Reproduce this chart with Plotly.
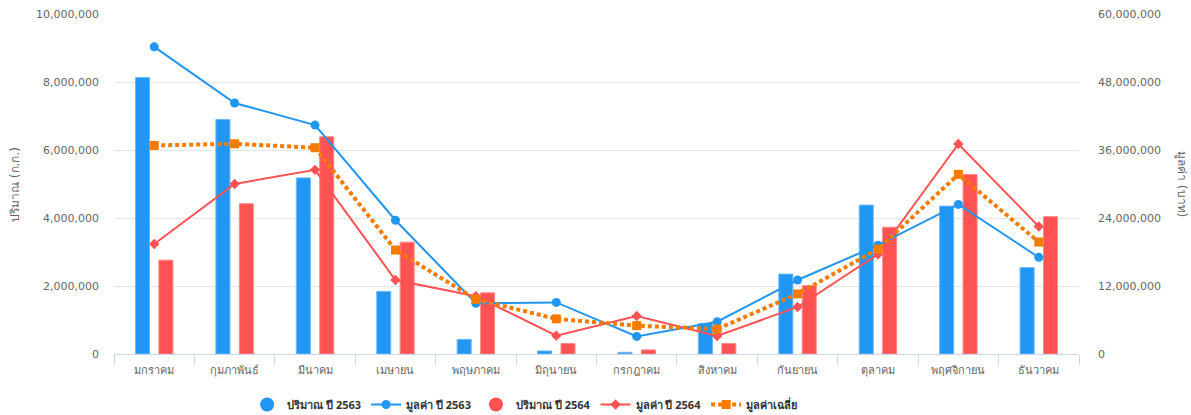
import plotly.graph_objects as go

months = ["มกราคม", "กุมภาพันธ์", "มีนาคม", "เมษายน", "พฤษภาคม", "มิถุนายน",
          "กรกฎาคม", "สิงหาคม", "กันยายน", "ตุลาคม", "พฤศจิกายน", "ธันวาคม"]

qty_2563 = [8130000, 6900000, 5180000, 1840000, 430000, 90000,
            50000, 900000, 2350000, 4380000, 4350000, 2540000]
qty_2564 = [2760000, 4420000, 6390000, 3290000, 1800000, 310000,
            120000, 310000, 2010000, 3730000, 5280000, 4040000]
val_2563 = [54200000, 44300000, 40400000, 23600000, 8950000, 9100000,
            3100000, 5700000, 13060000, 19200000, 26400000, 17060000]
val_2564 = [19400000, 30000000, 32500000, 13060000, 10200000, 3240000,
            6700000, 3180000, 8300000, 17600000, 37060000, 22500000]
val_avg = [36800000, 37100000, 36400000, 18350000, 9650000, 6200000,
           5000000, 4400000, 10600000, 18500000, 31700000, 19760000]

y1_ticks = [0, 2000000, 4000000, 6000000, 8000000, 10000000]
y2_ticks = [0, 12000000, 24000000, 36000000, 48000000, 60000000]

BLUE = "#2196f3"
RED = "#ff5252"
ORANGE = "#f57c00"

fig = go.Figure()

fig.add_trace(go.Bar(x=months, y=qty_2563, name="ปริมาณ ปี 2563", marker_color=BLUE,
                     marker_line=dict(color="#6cb8f7", width=1), showlegend=False,
                     legendgroup="q63"))
fig.add_trace(go.Bar(x=months, y=qty_2564, name="ปริมาณ ปี 2564", marker_color=RED,
                     marker_line=dict(color="#ff8a8a", width=1), showlegend=False,
                     legendgroup="q64"))

# legend proxies
fig.add_trace(go.Scatter(x=[None], y=[None], mode="markers", name="ปริมาณ ปี 2563",
                         marker=dict(symbol="circle", size=14, color=BLUE), legendgroup="q63"))
fig.add_trace(go.Scatter(x=months, y=val_2563, name="มูลค่า ปี 2563", yaxis="y2",
                         mode="lines+markers", line=dict(color=BLUE, width=2),
                         marker=dict(symbol="circle", size=9, color=BLUE)))
fig.add_trace(go.Scatter(x=[None], y=[None], mode="markers", name="ปริมาณ ปี 2564",
                         marker=dict(symbol="circle", size=14, color=RED), legendgroup="q64"))
fig.add_trace(go.Scatter(x=months, y=val_2564, name="มูลค่า ปี 2564", yaxis="y2",
                         mode="lines+markers", line=dict(color=RED, width=2),
                         marker=dict(symbol="diamond", size=8, color=RED)))
fig.add_trace(go.Scatter(x=months, y=val_avg, name="มูลค่าเฉลี่ย", yaxis="y2",
                         mode="lines+markers", line=dict(color=ORANGE, width=4, dash="4px,3px"),
                         marker=dict(symbol="square", size=9, color=ORANGE)))

NUMFONT = "DejaVu Sans, Noto Sans, sans-serif"
FONT = "Noto Sans, DejaVu Sans, sans-serif"

fig.update_layout(
    width=1191, height=415,
    margin=dict(l=114, r=112, t=14, b=61, autoexpand=False),
    paper_bgcolor="white", plot_bgcolor="white",
    font=dict(family=FONT, size=11, color="#666666"),
    barmode="group", bargap=0.418, bargroupgap=0.40,
    xaxis=dict(type="category", showgrid=False, showline=True, linecolor="#ccd6eb",
               ticks="outside", tickson="boundaries", ticklen=10, tickcolor="#ccd6eb",
               tickfont=dict(family=FONT, size=11, color="#666666"), range=[-0.5, 11.5],
               automargin=False, ticklabelstandoff=6),
    yaxis=dict(range=[0, 10000000], tickvals=y1_ticks,
               tickformat=",d", showgrid=True, gridcolor="#e6e6e6", zeroline=False,
               showline=False, ticks="", ticklabelstandoff=14, automargin=False,
               tickfont=dict(family=NUMFONT, size=11, color="#666666")),
    yaxis2=dict(range=[0, 60000000], overlaying="y", side="right",
                tickvals=y2_ticks,
                tickformat=",d", showgrid=False, zeroline=False, showline=False,
                ticks="", ticklabelstandoff=18, automargin=False,
                tickfont=dict(family=NUMFONT, size=11, color="#666666")),
    legend=dict(orientation="h", x=0.138, xanchor="left", y=-0.106, yanchor="top",
                font=dict(size=11, color="#333333", weight="bold"), itemsizing="trace",
                itemwidth=30),
    annotations=[
        dict(text="ปริมาณ (ก.ก.)", xref="paper", yref="paper", x=-0.1026, y=0.5,
             textangle=-90, showarrow=False, xanchor="center", yanchor="middle",
             font=dict(family=NUMFONT, size=12, color="#666666")),
        dict(text="มูลค่า (บาท)", xref="paper", yref="paper", x=1.1067, y=0.5,
             textangle=90, showarrow=False, xanchor="center", yanchor="middle",
             font=dict(family=NUMFONT, size=12, color="#666666")),
    ],
)

fig.write_html("out.html", config={"displayModeBar": False},
               post_script="document.body.style.margin='0';")
